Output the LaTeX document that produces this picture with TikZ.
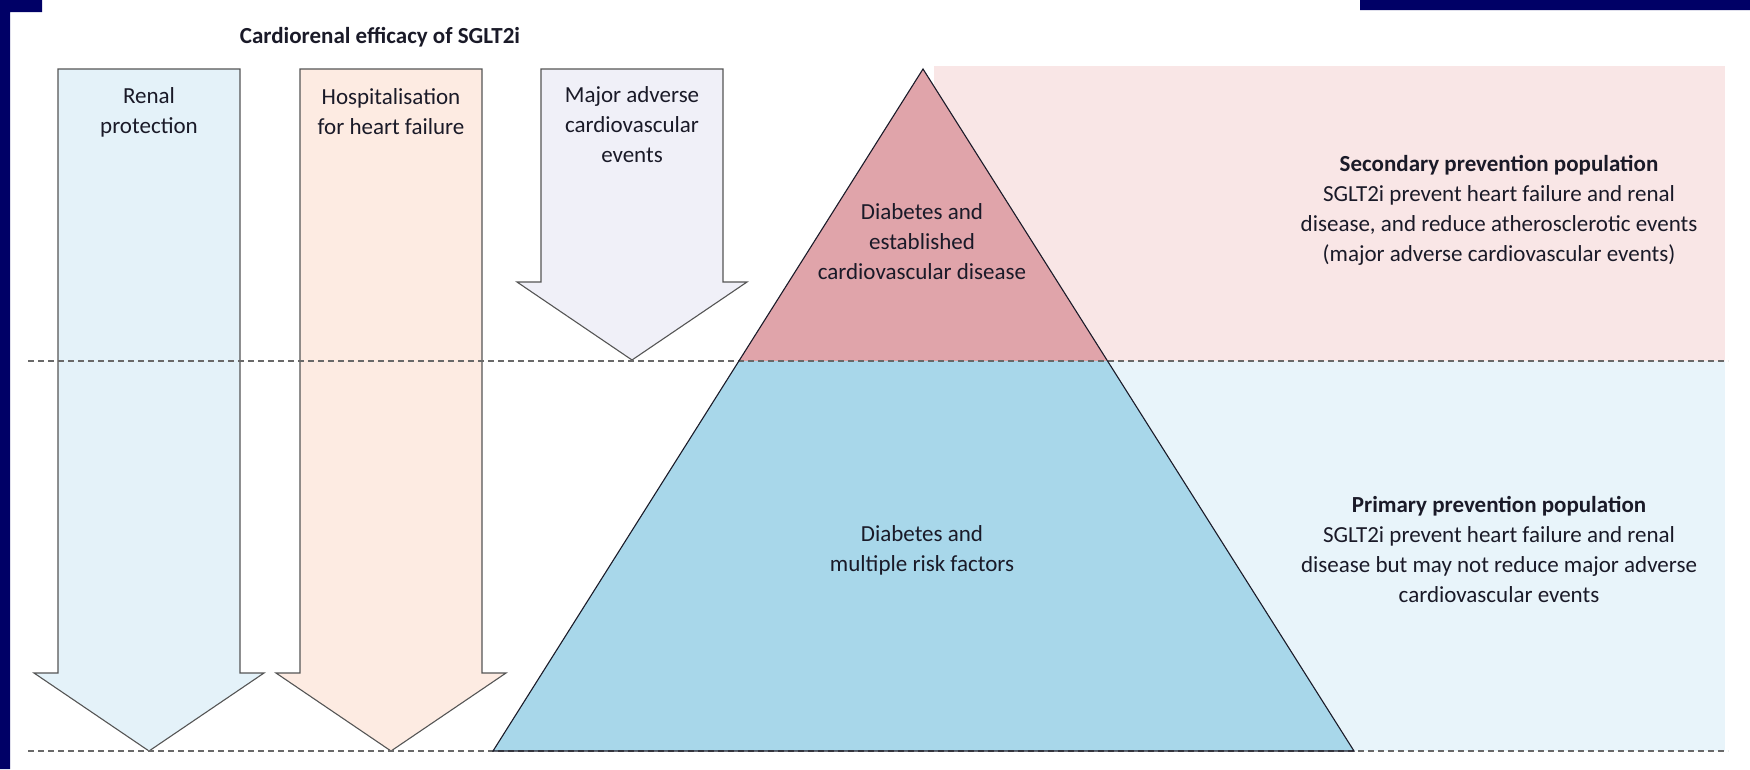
\documentclass[tikz,border=0pt]{standalone}
\usepackage{fontspec}
\setmainfont{Carlito}
\usetikzlibrary{calc}
\definecolor{navy}{RGB}{0,0,102}
\definecolor{ink}{RGB}{26,26,40}
\definecolor{edge}{RGB}{85,85,85}
\definecolor{dashgray}{RGB}{105,105,105}
\definecolor{arrblue}{RGB}{228,242,249}
\definecolor{arrpeach}{RGB}{253,235,226}
\definecolor{arrlilac}{RGB}{240,240,248}
\definecolor{tritop}{RGB}{224,164,170}
\definecolor{tribot}{RGB}{168,215,234}
\definecolor{pinkbg}{RGB}{249,230,230}
\definecolor{bluebg}{RGB}{232,244,250}
\begin{document}
\begin{tikzpicture}[x=1pt,y=-1pt,
	txt/.style={align=center,inner sep=0pt,text=ink,font=\fontsize{23}{30}\selectfont},
	arrowbox/.style={draw=edge,line width=1.1pt},
	dashline/.style={draw=dashgray,line width=1.1pt,dash pattern=on 6pt off 4pt}]
	\useasboundingbox (0,0) rectangle (1750,769);
	\fill[navy] (0,0) rectangle (10,769) (0,0) rectangle (42,12) (1360,0) rectangle (1750,10);
	\fill[pinkbg] (934,66) rectangle (1725,361);
	\fill[bluebg] (934,361) rectangle (1725,751);
	\foreach \c/\b/\col in {149/673/arrblue,391/673/arrpeach,632/282/arrlilac}{
		\filldraw[arrowbox,fill=\col] (\c-91,69) -- (\c+91,69) -- (\c+91,\b) -- (\c+115,\b)
		    -- (\c,\b+78) -- (\c-115,\b) -- (\c-91,\b) -- cycle;
	}
	\path (923,69) coordinate (S)
	(493,751) coordinate (L)
	(1354,751) coordinate (R)
	($(S)!0.4282!(L)$) coordinate (ML)
	($(S)!0.4282!(R)$) coordinate (MR)
	(28,361) coordinate (A1) (1728,361) coordinate (A2)
	(28,751) coordinate (B1) (1728,751) coordinate (B2);
	\fill[tritop] (S)--(ML)--(MR)--cycle;
	\fill[tribot] (ML)--(L)--(R)--(MR)--cycle;
	\draw[dashline] (A1)--(A2) (B1)--(B2);
	\draw[line width=1.1pt,draw=ink] (S)--(L)--(R)--cycle;
	\node[txt] (title) at (380,37) {\textbf{Cardiorenal efficacy of SGLT2i}};
	\node[txt] (renal) at (149,112) {Renal\\protection};
	\node[txt] (hosp) at (391,112) {Hospitalisation\\for heart failure};
	\node[txt] (mace) at (632,125) {Major adverse\\cardiovascular\\events};
	\node[txt] (upper) at (922,242) {Diabetes and\\established\\cardiovascular disease};
	\node[txt] (lower) at (922,550) {Diabetes and\\multiple risk factors};
	\node[txt] (second) at (1499,210) {\textbf{Secondary prevention population}\\SGLT2i prevent heart failure and renal\\disease, and reduce atherosclerotic events\\(major adverse cardiovascular events)};
	\node[txt] (first) at (1499,549) {\textbf{Primary prevention population}\\SGLT2i prevent heart failure and renal\\disease but may not reduce major adverse\\cardiovascular events};
\end{tikzpicture}
\end{document}
